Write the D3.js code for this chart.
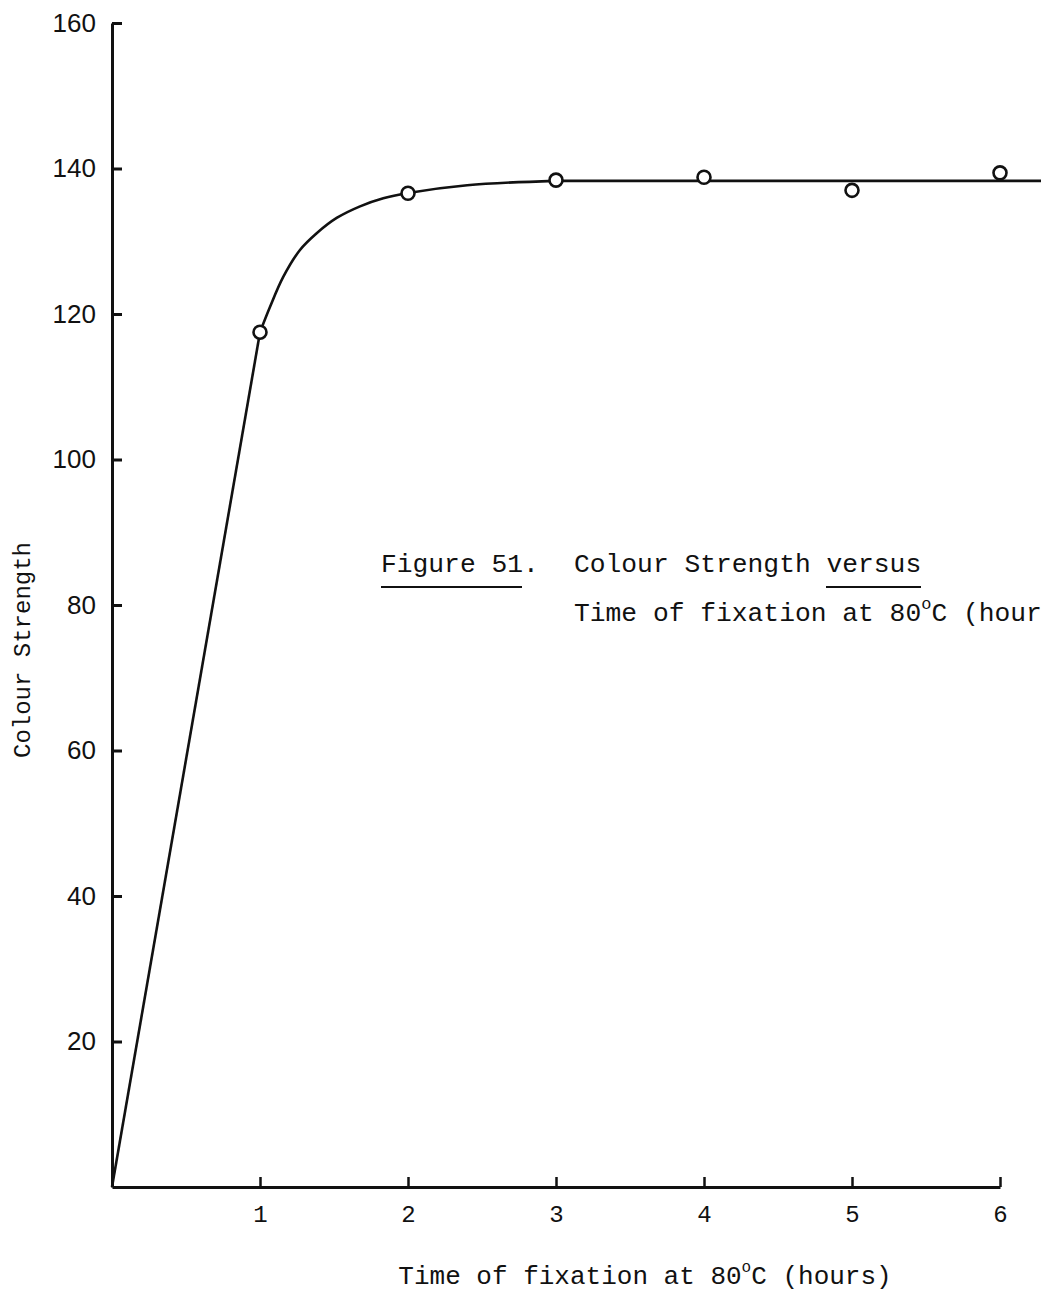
<!DOCTYPE html>
<html><head><meta charset="utf-8">
<script src="https://cdn.jsdelivr.net/npm/d3@7"></script>
<style>
body{margin:0;background:#fff;}
svg{display:block;}
</style></head>
<body>
<svg id="c" width="1041" height="1293"></svg>
<script>
// Data
const timeHours = [1, 2, 3, 4, 5, 6];
const colourStrength = [117.5, 136.6, 138.4, 138.8, 137.0, 139.4];
// Straight rise from origin to first point
const riseX = [0, 1];
const riseY = [0, 117.5];
// Hand-drawn smooth curve from 1 h to 3 h
const curveX = [1, 1.068, 1.157, 1.27, 1.383, 1.518, 1.676, 1.833, 1.99, 2.4, 2.99];
const curveY = [117.5, 121.0, 125.1, 128.8, 131.1, 133.2, 134.8, 135.9, 136.6, 137.7, 138.3];
// Plateau line
const plateauX = [2.99, 6.3];
const plateauY = [138.3, 138.3];
const xTicks = [1, 2, 3, 4, 5, 6];
const yTicks = [20, 40, 60, 80, 100, 120, 140, 160];

const svg = d3.select("#c");
const x = d3.scaleLinear().domain([0, 6]).range([112, 1000]);
const y = d3.scaleLinear().domain([0, 160]).range([1187, 23]);

const mono = "'Liberation Mono','DejaVu Sans Mono',monospace";
const sans = "'Liberation Sans','DejaVu Sans',sans-serif";

// Y axis
const ya = svg.append("g").attr("transform", `translate(${x(0)},0)`)
  .call(d3.axisLeft(y).tickValues(yTicks).tickSizeInner(-10).tickSizeOuter(0).tickPadding(16));
ya.select(".domain").attr("stroke", "#111").attr("stroke-width", 3);
ya.selectAll(".tick line").attr("stroke", "#111").attr("stroke-width", 3);
ya.selectAll(".tick text").attr("font-family", sans).attr("font-size", 26).attr("fill", "#111");

// X axis
const xa = svg.append("g").attr("transform", `translate(0,${y(0)})`)
  .call(d3.axisBottom(x).tickValues(xTicks).tickFormat(d3.format("d")).tickSizeInner(-10).tickSizeOuter(0).tickPadding(18));
xa.select(".domain").attr("stroke", "#111").attr("stroke-width", 3);
xa.selectAll(".tick line").attr("stroke", "#111").attr("stroke-width", 2.5);
xa.selectAll(".tick text").attr("font-family", mono).attr("font-size", 24).attr("fill", "#111");

// Lines
const line = d3.line().x(d => x(d[0])).y(d => y(d[1]));
svg.append("path").datum(d3.zip(riseX, riseY))
  .attr("d", line).attr("fill", "none").attr("stroke", "#111").attr("stroke-width", 2.6);
svg.append("path").datum(d3.zip(curveX, curveY))
  .attr("d", d3.line().x(d => x(d[0])).y(d => y(d[1])).curve(d3.curveCatmullRom.alpha(0.5)))
  .attr("fill", "none").attr("stroke", "#111").attr("stroke-width", 2.6);
svg.append("path").datum(d3.zip(plateauX, plateauY))
  .attr("d", line).attr("fill", "none").attr("stroke", "#111").attr("stroke-width", 2.6);

// Points
svg.append("g").selectAll("circle").data(d3.zip(timeHours, colourStrength)).join("circle")
  .attr("cx", d => x(d[0])).attr("cy", d => y(d[1])).attr("r", 6.5)
  .attr("fill", "#fff").attr("stroke", "#111").attr("stroke-width", 2.6);

// Axis titles
const xt = svg.append("text").attr("x", 645).attr("y", 1284).attr("text-anchor", "middle")
  .attr("font-family", mono).attr("font-size", 26).attr("fill", "#111");
xt.append("tspan").text("Time of fixation at 80");
xt.append("tspan").attr("font-size", 16).attr("dy", -12).text("o");
xt.append("tspan").attr("dy", 12).text("C (hours)");

svg.append("text").attr("transform", "translate(30,650) rotate(-90)").attr("text-anchor", "middle")
  .attr("font-family", mono).attr("font-size", 24).attr("fill", "#111").text("Colour Strength");

// Caption
const capFont = 26.3;
svg.append("text").attr("x", 381).attr("y", 572).attr("font-family", mono).attr("font-size", capFont).attr("fill", "#111")
  .text("Figure 51.");
svg.append("text").attr("x", 574).attr("y", 572).attr("font-family", mono).attr("font-size", capFont).attr("fill", "#111")
  .text("Colour Strength versus");
svg.append("line").attr("x1", 381).attr("x2", 522).attr("y1", 587).attr("y2", 587).attr("stroke", "#111").attr("stroke-width", 2);
svg.append("line").attr("x1", 826).attr("x2", 921).attr("y1", 587).attr("y2", 587).attr("stroke", "#111").attr("stroke-width", 2);
const cap2 = svg.append("text").attr("x", 574).attr("y", 621).attr("font-family", mono).attr("font-size", capFont).attr("fill", "#111");
cap2.append("tspan").text("Time of fixation at 80");
cap2.append("tspan").attr("font-size", 17).attr("dy", -12).text("o");
cap2.append("tspan").attr("dy", 12).text("C (hours)");
</script>
</body></html>
